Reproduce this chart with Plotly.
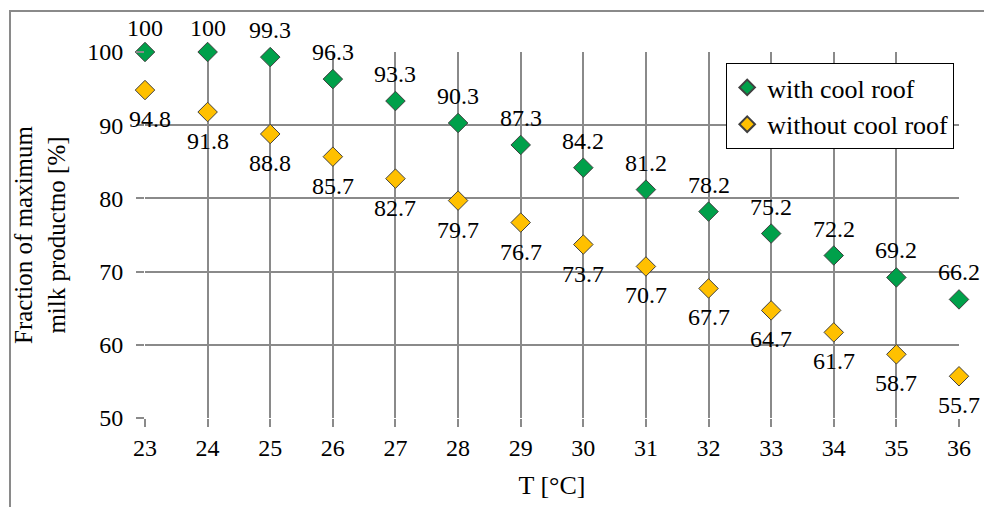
import plotly.graph_objects as go

temps = [23, 24, 25, 26, 27, 28, 29, 30, 31, 32, 33, 34, 35, 36]
with_cool = [100, 100, 99.3, 96.3, 93.3, 90.3, 87.3, 84.2, 81.2, 78.2, 75.2, 72.2, 69.2, 66.2]
without_cool = [94.8, 91.8, 88.8, 85.7, 82.7, 79.7, 76.7, 73.7, 70.7, 67.7, 64.7, 61.7, 58.7, 55.7]
with_labels = ["100", "100", "99.3", "96.3", "93.3", "90.3", "87.3", "84.2", "81.2", "78.2", "75.2", "72.2", "69.2", "66.2"]
without_labels = ["94.8", "91.8", "88.8", "85.7", "82.7", "79.7", "76.7", "73.7", "70.7", "67.7", "64.7", "61.7", "58.7", "55.7"]
x_ticks = [23, 24, 25, 26, 27, 28, 29, 30, 31, 32, 33, 34, 35, 36]
y_ticks = [50, 60, 70, 80, 90, 100]

FONT = "Liberation Serif"
GRID = "#8a8a8a"

fig = go.Figure()
fig.add_trace(go.Scatter(
    x=temps, y=with_cool, mode="markers", name="with cool roof",
    marker=dict(symbol="diamond", size=15, color="#00A04A",
                line=dict(color="#404040", width=1)),
    cliponaxis=False,
))
fig.add_trace(go.Scatter(
    x=temps, y=without_cool, mode="markers", name="without cool roof",
    marker=dict(symbol="diamond", size=15, color="#FFC000",
                line=dict(color="#404040", width=1)),
    cliponaxis=False,
))

annotations = []
for i, (t, v, lab) in enumerate(zip(temps, with_cool, with_labels)):
    annotations.append(dict(
        x=t, y=v, xref="x", yref="y", text=lab, showarrow=False,
        yshift=24 if v >= 99.9 else 27,
        font=dict(family=FONT, size=24, color="#000000"),
    ))
for i, (t, v, lab) in enumerate(zip(temps, without_cool, without_labels)):
    annotations.append(dict(
        x=t, y=v, xref="x", yref="y", text=lab, showarrow=False,
        yshift=-29, xshift=5 if i == 0 else 0,
        font=dict(family=FONT, size=24, color="#000000"),
    ))

# page body has an 8px margin, so the figure is shifted by (8, 8)
fig.update_layout(
    width=976, height=499,
    margin=dict(l=137, r=25, t=44, b=89),
    paper_bgcolor="white", plot_bgcolor="white",
    font=dict(family=FONT, size=24, color="#000000"),
    showlegend=True,
    legend=dict(
        x=0.714, y=0.97, xanchor="left", yanchor="top",
        bgcolor="white", bordercolor="#000000", borderwidth=1,
        font=dict(family=FONT, size=26),
        itemsizing="constant", tracegroupgap=0,
    ),
    xaxis=dict(
        range=[23, 36], tickvals=x_ticks, ticktext=[str(t) for t in x_ticks],
        showgrid=True, gridcolor=GRID, gridwidth=2,
        zeroline=False, showline=False,
        ticks="outside", ticklen=8, tickwidth=2, tickcolor=GRID,
        tickfont=dict(family=FONT, size=24),
        title=dict(text="T [°C]", font=dict(family=FONT, size=26), standoff=16),
    ),
    yaxis=dict(
        range=[50, 100], tickvals=y_ticks,
        showgrid=True, gridcolor=GRID, gridwidth=2,
        zeroline=False, showline=False,
        ticks="outside", ticklen=8, tickwidth=2, tickcolor=GRID,
        ticklabelstandoff=8,
        tickfont=dict(family=FONT, size=24),
        title=dict(text="Fraction of maximum<br>milk productno [%]",
                   font=dict(family=FONT, size=25), standoff=14),
    ),
    annotations=annotations,
    shapes=[dict(type="rect", xref="paper", yref="paper",
                 x0=(10 - 145) / 814, x1=(1000 - 145) / 814,
                 y0=(418 - 520) / 366, y1=(418 - 11) / 366,
                 line=dict(color=GRID, width=2), layer="below")],
)

fig.write_html("out.html")
